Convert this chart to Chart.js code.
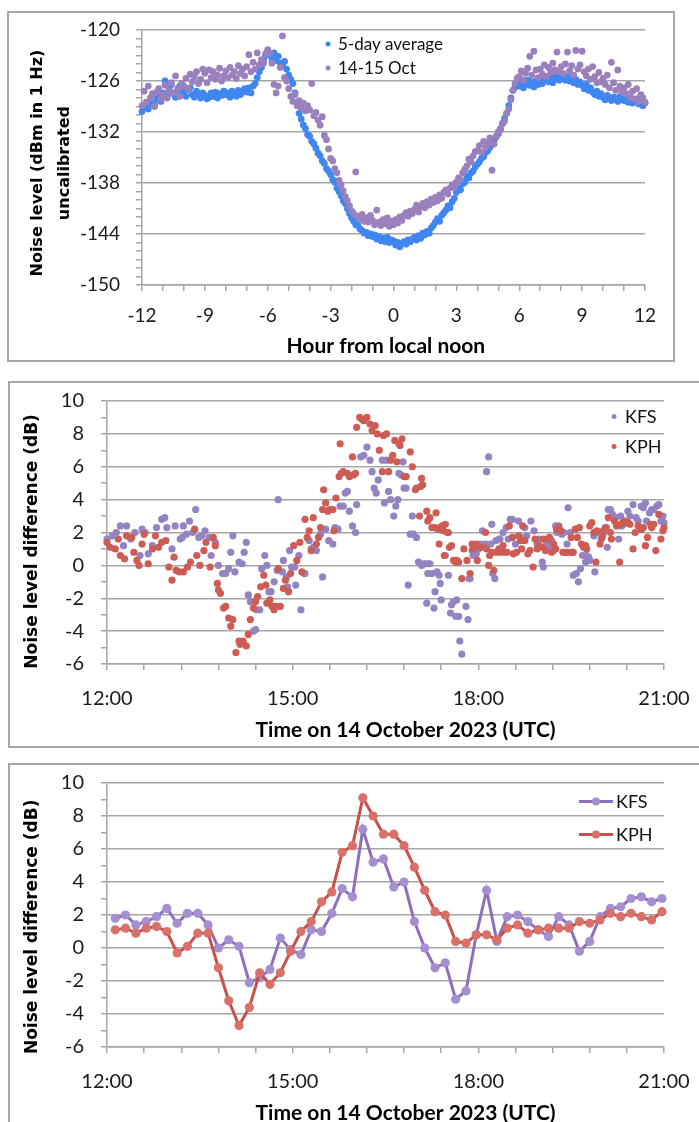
<!DOCTYPE html>
<html>
<head>
<meta charset="utf-8">
<script src="https://cdn.jsdelivr.net/npm/chart.js@4.4.0/dist/chart.umd.min.js"></script>
<style>
  html, body { margin: 0; padding: 0; background: #fff; }
  body { width: 699px; height: 1122px; overflow: hidden; position: relative; }
  .panel { position: absolute; box-sizing: border-box; border: 2px solid #a6a6a6; background: #fff; }
  .panel canvas { display: block; }
  #p1 { left: 7px; top: 11px; width: 668px; height: 351px; }
  #p2 { left: 8px; top: 381px; width: 697px; height: 367px; }
  #p3 { left: 8px; top: 763px; width: 697px; height: 372px; }
</style>
</head>
<body>
<div class="panel" id="p1"><canvas id="c1" width="664" height="347"></canvas></div>
<div class="panel" id="p2"><canvas id="c2" width="693" height="363"></canvas></div>
<div class="panel" id="p3"><canvas id="c3" width="693" height="364"></canvas></div>
<script>
// ---- top panel: noise level vs hour from local noon (0.1 h samples) ----
const noonHours = [
  -12,-11.9,-11.8,-11.7,-11.6,-11.5,-11.4,-11.3,-11.2,-11.1,
  -11,-10.9,-10.8,-10.7,-10.6,-10.5,-10.4,-10.3,-10.2,-10.1,
  -10,-9.9,-9.8,-9.7,-9.6,-9.5,-9.4,-9.3,-9.2,-9.1,
  -9,-8.9,-8.8,-8.7,-8.6,-8.5,-8.4,-8.3,-8.2,-8.1,
  -8,-7.9,-7.8,-7.7,-7.6,-7.5,-7.4,-7.3,-7.2,-7.1,
  -7,-6.9,-6.8,-6.7,-6.6,-6.5,-6.4,-6.3,-6.2,-6.1,
  -6,-5.9,-5.8,-5.7,-5.6,-5.5,-5.4,-5.3,-5.2,-5.1,
  -5,-4.9,-4.8,-4.7,-4.6,-4.5,-4.4,-4.3,-4.2,-4.1,
  -4,-3.9,-3.8,-3.7,-3.6,-3.5,-3.4,-3.3,-3.2,-3.1,
  -3,-2.9,-2.8,-2.7,-2.6,-2.5,-2.4,-2.3,-2.2,-2.1,
  -2,-1.9,-1.8,-1.7,-1.6,-1.5,-1.4,-1.3,-1.2,-1.1,
  -1,-0.9,-0.8,-0.7,-0.6,-0.5,-0.4,-0.3,-0.2,-0.1,
  0,0.1,0.2,0.3,0.4,0.5,0.6,0.7,0.8,0.9,
  1,1.1,1.2,1.3,1.4,1.5,1.6,1.7,1.8,1.9,
  2,2.1,2.2,2.3,2.4,2.5,2.6,2.7,2.8,2.9,
  3,3.1,3.2,3.3,3.4,3.5,3.6,3.7,3.8,3.9,
  4,4.1,4.2,4.3,4.4,4.5,4.6,4.7,4.8,4.9,
  5,5.1,5.2,5.3,5.4,5.5,5.6,5.7,5.8,5.9,
  6,6.1,6.2,6.3,6.4,6.5,6.6,6.7,6.8,6.9,
  7,7.1,7.2,7.3,7.4,7.5,7.6,7.7,7.8,7.9,
  8,8.1,8.2,8.3,8.4,8.5,8.6,8.7,8.8,8.9,
  9,9.1,9.2,9.3,9.4,9.5,9.6,9.7,9.8,9.9,
  10,10.1,10.2,10.3,10.4,10.5,10.6,10.7,10.8,10.9,
  11,11.1,11.2,11.3,11.4,11.5,11.6,11.7,11.8,11.9,
  12
];
const avg5day = [
  -129.6,-129.0,-128.9,-129.3,-128.4,-128.7,-128.8,-128.1,-127.9,-128.4,
  -127.4,-126.0,-127.8,-127.0,-126.4,-127.5,-127.9,-127.1,-126.6,-127.4,
  -127.3,-127.8,-127.0,-126.8,-127.6,-127.9,-127.2,-127.5,-128.0,-127.4,
  -127.7,-128.1,-127.9,-127.4,-127.8,-127.3,-128.0,-127.5,-127.7,-127.2,
  -127.6,-127.4,-127.9,-127.2,-127.5,-127.8,-127.1,-127.6,-127.3,-126.9,
  -127.3,-126.8,-127.4,-126.6,-126.3,-125.6,-124.9,-124.4,-123.6,-123.0,
  -122.5,-122.9,-123.4,-122.7,-123.6,-123.1,-123.9,-124.2,-123.7,-124.6,
  -125.3,-125.8,-126.3,-127.4,-128.6,-129.8,-130.5,-131.2,-131.6,-132.3,
  -132.5,-133.1,-133.4,-133.9,-134.5,-134.8,-135.4,-135.7,-136.3,-136.6,
  -137.0,-137.6,-137.9,-138.6,-139.0,-139.5,-140.1,-140.4,-141.0,-141.6,
  -142.1,-142.5,-142.9,-143.0,-143.4,-143.6,-143.9,-143.8,-144.2,-144.0,
  -144.3,-144.1,-144.6,-144.3,-144.8,-144.5,-144.9,-144.4,-145.0,-144.7,
  -144.8,-145.3,-145.0,-145.5,-145.1,-144.9,-145.2,-144.7,-144.9,-144.6,
  -144.4,-144.7,-144.2,-144.5,-143.9,-144.1,-143.7,-143.9,-143.3,-143.0,
  -142.6,-142.2,-142.5,-141.8,-141.5,-141.2,-140.7,-140.9,-140.2,-139.8,
  -139.1,-138.6,-138.8,-138.1,-137.9,-137.2,-137.4,-136.8,-136.6,-136.1,
  -135.8,-135.5,-135.1,-134.9,-134.4,-134.2,-133.8,-133.5,-133.0,-132.6,
  -132.2,-131.7,-131.0,-130.4,-129.8,-128.9,-128.0,-127.1,-126.7,-126.3,
  -126.6,-126.2,-126.8,-126.3,-125.9,-126.5,-126.1,-126.7,-126.0,-126.4,
  -125.8,-126.3,-125.9,-125.5,-126.1,-125.7,-126.2,-125.6,-125.4,-125.9,
  -125.6,-125.3,-125.9,-125.5,-126.0,-125.7,-126.2,-125.8,-126.4,-126.1,
  -126.5,-126.9,-126.4,-127.1,-126.8,-127.3,-127.6,-127.2,-127.8,-127.5,
  -127.9,-128.2,-127.7,-128.0,-128.3,-127.9,-128.1,-128.4,-127.8,-128.2,
  -128.3,-128.0,-128.5,-128.2,-128.6,-128.4,-128.1,-128.7,-128.5,-128.9,
  -128.6
];
const oct1415 = [
  -128.9,-127.2,-128.5,-126.6,-128.0,-127.5,-129.0,-127.3,-126.9,-128.1,
  -127.6,-126.5,-128.0,-127.1,-126.2,-127.4,-125.4,-126.9,-127.8,-126.3,
  -126.6,-125.7,-126.9,-125.2,-126.1,-125.5,-124.9,-126.3,-125.8,-124.6,
  -125.1,-126.2,-124.7,-125.6,-124.9,-125.8,-125.3,-124.5,-126.0,-125.4,
  -124.8,-125.6,-124.4,-125.3,-124.9,-125.7,-124.2,-125.1,-124.6,-125.4,
  -124.3,-122.9,-124.9,-123.8,-124.6,-122.7,-124.1,-123.5,-123.9,-122.8,
  -122.3,-122.7,-123.9,-126.4,-127.4,-126.6,-124.4,-120.7,-125.6,-126.0,
  -126.9,-127.8,-128.4,-127.6,-128.9,-128.3,-129.2,-128.6,-129.5,-128.9,
  -129.4,-126.3,-130.1,-129.7,-130.6,-131.2,-130.2,-132.4,-132.9,-134.0,
  -135.1,-135.4,-136.3,-136.8,-137.7,-138.2,-138.9,-139.6,-140.1,-140.7,
  -141.3,-141.6,-136.7,-141.9,-142.3,-141.7,-142.5,-142.1,-142.6,-141.8,
  -142.4,-142.9,-141.2,-142.6,-143.0,-142.3,-142.8,-142.1,-143.1,-142.5,
  -142.9,-142.3,-142.7,-142.0,-142.4,-141.8,-141.5,-141.9,-141.3,-141.6,
  -141.1,-140.6,-141.4,-140.8,-140.4,-140.9,-140.2,-140.6,-139.9,-140.3,
  -139.7,-140.1,-139.4,-139.8,-139.1,-138.8,-139.3,-138.6,-138.2,-138.5,
  -137.9,-137.4,-137.6,-136.8,-136.4,-136.0,-135.2,-135.5,-134.8,-134.3,
  -134.2,-133.6,-134.4,-133.1,-133.8,-133.3,-132.7,-136.5,-133.4,-132.5,
  -132.0,-131.6,-131.0,-130.7,-129.8,-129.3,-128.2,-127.1,-126.3,-125.7,
  -125.5,-124.8,-125.9,-125.1,-124.5,-123.1,-125.3,-122.5,-124.7,-125.6,
  -124.6,-125.2,-124.1,-125.5,-124.4,-125.0,-123.9,-124.7,-122.6,-124.9,
  -124.3,-125.1,-124.0,-122.6,-124.8,-124.2,-125.3,-122.4,-124.6,-124.1,
  -122.5,-124.9,-125.4,-124.6,-125.8,-124.3,-125.5,-126.2,-125.0,-126.1,
  -125.7,-126.4,-125.3,-126.8,-123.8,-126.2,-127.1,-124.7,-126.6,-127.3,
  -126.8,-127.5,-126.4,-127.9,-127.2,-128.1,-126.9,-128.4,-127.6,-128.0,
  -128.5
];

// ---- middle panel: individual differences, minutes after 12:00 UTC ----
const kfsMin = [
  0,5,9,13,16,19,23,27,32,34,37,40,44,48,53,56,58,63,66,71,73,74,77,80,83,86,89,92,95,99,101,105,
  108,112,115,118,120,122,124,128,131,133,135,137,139,142,144,145,148,150,153,155,157,159,162,165,166,170,171,174,175,177,179,
  182,183,186,188,191,192,196,198,200,203,207,209,212,215,219,221,224,226,229,231,233,235,238,241,242,246,249,252,
  255,257,259,261,263,267,269,271,273,275,278,280,282,283,285,287,288,290,292,294,296,297,300,302,305,307,
  309,310,311,312,313,315,317,318,320,322,323,324,328,331,333,334,336,338,339,341,342,344,348,350,351,352,
  354,355,358,360,362,364,367,368,370,372,373,374,376,377,380,381,384,387,389,391,393,396,399,401,
  405,407,411,414,417,419,422,423,426,429,431,433,435,436,438,441,443,446,447,449,451,452,455,457,459,461,464,465,467,468,
  472,473,477,479,481,483,485,486,488,490,493,496,498,499,501,505,507,510,513,515,518,520,522,523,526,528,530,533,535,537,539,540
];
const kfsDb = [
  1.6,1.8,2.0,2.4,1.2,2.4,1.6,2.0,0.6,2.2,2.0,0.7,1.2,2.3,2.8,2.9,2.3,1.0,2.4,1.6,1.7,2.4,1.9,2.7,2.0,3.4,1.7,1.8,2.1,1.7,0.6,1.4,
  0.0,-0.5,-0.5,-0.2,0.8,1.8,-0.4,0.2,0.1,0.8,1.4,-1.8,-2.2,-4.0,-3.9,-2.7,-2.7,-0.2,0.6,0.0,-1.6,-1.6,-1.0,-0.3,4.0,-0.4,0.3,-0.7,-1.3,0.9,-0.1,
  -0.1,-1.2,0.6,-2.7,-0.5,-0.5,1.5,1.0,1.1,0.9,1.9,-0.7,2.2,1.5,1.3,2.3,2.2,3.6,3.6,4.4,4.5,3.3,2.4,2.0,3.7,6.6,6.7,7.2,
  6.4,5.7,4.7,4.4,5.2,6.4,3.8,6.4,4.5,4.0,3.0,3.6,4.0,5.6,5.5,6.3,4.7,4.7,-1.2,1.9,3.0,1.9,1.7,0.2,0.0,0.1,
  0.1,-2.3,-0.5,0.1,0.1,-0.5,-2.6,-1.6,-0.4,-0.6,-1.1,-2.1,0.6,-0.6,-2.9,-2.4,-2.2,-3.1,-2.1,-3.1,-4.6,-5.4,-2.5,-3.3,-0.8,-0.8,
  0.9,0.6,0.7,1.0,1.3,2.1,1.3,5.7,6.6,1.3,2.5,-0.5,-0.8,1.5,1.6,1.6,2.0,2.3,1.6,2.8,2.8,1.3,2.7,1.7,
  2.3,1.8,2.7,2.1,1.3,1.6,0.2,-0.1,1.3,1.1,1.5,0.9,2.4,2.0,2.4,1.9,2.0,1.3,3.5,2.0,0.8,-0.6,-0.5,-1.0,-0.2,0.6,0.2,0.6,0.5,0.3,
  1.8,-0.4,2.0,1.6,1.9,2.3,1.1,3.4,3.4,3.1,2.9,1.6,3.0,2.4,2.5,3.3,3.0,3.7,2.9,2.7,3.6,3.5,3.8,2.7,3.2,3.4,3.4,3.6,3.7,2.7,3.0,2.6
];
const kphMin = [
  0,3,8,11,13,17,19,24,26,29,31,34,36,40,44,47,50,53,57,60,63,65,67,70,74,78,81,85,87,90,94,96,100,103,105,
  107,108,110,113,115,118,120,122,125,128,129,132,135,137,139,142,144,146,149,152,154,155,158,160,162,164,166,168,171,173,176,178,
  181,184,187,189,192,194,196,198,200,203,205,207,209,210,212,214,216,219,220,222,225,226,227,229,233,235,238,239,241,242,245,247,249,252,
  255,257,260,262,264,267,268,271,273,275,277,279,281,283,284,286,288,290,294,296,299,300,303,304,305,306,
  310,311,313,315,318,319,321,322,323,325,326,327,328,330,331,332,334,336,338,339,341,344,346,349,352,354,355,358,359,362,363,367,368,370,371,
  373,375,377,380,381,384,385,388,390,393,394,397,399,401,402,403,405,408,410,413,415,417,419,422,423,425,427,429,431,433,435,436,
  438,440,442,444,446,448,450,451,452,454,456,458,460,462,464,465,468,470,472,474,475,478,480,481,484,486,488,489,492,494,497,498,500,
  502,505,507,510,512,515,518,520,522,524,527,528,530,532,535,537,539,540
];
const kphDb = [
  1.4,1.1,1.0,1.6,0.6,0.4,1.8,1.7,0.8,0.3,0.0,1.3,1.9,0.1,1.0,1.8,1.1,1.4,1.5,-0.1,-0.9,0.5,-0.3,-0.4,-0.4,-0.1,0.2,2.2,0.6,0.0,0.9,1.4,-0.1,1.7,1.2,
  -1.1,-1.5,-1.7,-2.6,-2.5,-3.2,-3.7,-3.3,-5.3,-4.6,-4.8,-4.6,-4.9,-4.2,-3.3,-2.6,-2.2,-1.9,-1.3,-0.6,-1.2,-2.3,-2.1,-2.5,-2.7,-2.5,-0.2,-2.5,-1.4,-0.9,-1.6,-0.5,
  1.2,0.3,1.4,-0.4,2.8,1.7,2.1,0.9,2.9,1.3,1.7,2.3,3.4,4.6,3.8,3.3,3.4,3.4,2.1,4.1,5.4,7.4,5.6,5.7,5.6,5.4,6.6,5.5,5.6,8.4,9.0,8.9,8.8,9.0,
  8.6,8.2,8.5,8.0,7.0,5.7,7.9,8.0,5.7,6.4,6.7,7.6,6.3,7.4,7.3,7.7,5.4,5.4,6.9,6.0,4.6,4.7,3.0,4.8,5.3,4.9,
  3.3,2.7,2.9,2.3,2.3,3.2,2.2,1.3,2.3,2.4,2.1,0.6,2.5,2.0,2.0,1.1,1.2,0.3,0.2,0.3,0.2,-0.8,1.0,0.3,-0.5,1.3,1.0,1.3,0.3,1.1,1.1,2.0,1.0,0.0,0.6,
  0.8,-0.3,0.8,1.0,0.8,1.2,0.8,0.8,2.4,1.7,0.7,0.8,1.8,1.5,1.0,2.4,1.5,0.7,0.9,-0.1,1.6,1.0,1.2,1.1,1.6,0.9,1.6,1.7,0.8,1.3,1.0,2.2,
  2.3,2.1,0.8,0.8,0.8,0.8,1.7,0.8,0.8,2.2,1.7,2.3,1.3,1.1,1.2,1.0,2.4,2.6,2.0,0.2,2.1,1.3,1.7,2.1,2.3,2.9,2.0,1.6,2.7,2.4,0.2,2.5,2.6,
  2.7,2.6,2.5,1.0,2.0,2.4,2.2,2.3,1.2,1.7,2.5,2.3,2.5,0.9,3.1,1.6,2.1,2.3
];

// ---- bottom panel: 10-minute averages ----
const avgTimes = [
  '12:08','12:18','12:28','12:38','12:48','12:58',
  '13:08','13:18','13:28','13:38','13:48','13:58',
  '14:08','14:18','14:28','14:38','14:48','14:58',
  '15:08','15:18','15:28','15:38','15:48','15:58',
  '16:08','16:18','16:28','16:38','16:48','16:58',
  '17:08','17:18','17:28','17:38','17:48','17:58',
  '18:08','18:18','18:28','18:38','18:48','18:58',
  '19:08','19:18','19:28','19:38','19:48','19:58',
  '20:08','20:18','20:28','20:38','20:48','20:58'
];
const kfsAvg = [
  1.8,2.0,1.4,1.6,1.9,2.4,1.5,2.1,2.1,1.4,
  0.0,0.5,0.1,-2.1,-1.8,-1.3,0.6,-0.1,-0.4,1.1,
  1.0,2.1,3.6,3.1,7.2,5.2,5.4,3.7,4.0,1.6,
  0.0,-1.2,-0.9,-3.1,-2.6,0.8,3.5,0.4,1.9,2.0,
  1.6,1.1,0.7,1.9,1.4,-0.2,0.4,1.9,2.4,2.5,
  3.0,3.1,2.8,3.0
];
const kphAvg = [
  1.1,1.2,0.9,1.2,1.3,1.0,-0.3,0.1,0.9,0.9,
  -1.2,-3.2,-4.7,-3.6,-1.5,-2.2,-1.5,-0.2,1.0,1.6,
  2.8,3.4,5.8,6.2,9.1,8.0,6.9,6.9,6.2,4.9,
  3.5,2.2,2.0,0.4,0.3,0.8,0.8,0.5,1.2,1.4,
  0.9,1.1,1.2,1.2,1.2,1.6,1.5,1.7,2.1,1.9,
  2.1,1.9,1.7,2.2
];

const GRID = '#a6a6a6';
const INK = '#1a1a1a';
const SANS = 'Lato, "Open Sans", sans-serif';
const NB = '\u00a0';

function toHours(t) {
  const [h, m] = t.split(':').map(Number);
  return h + m / 60;
}
function pairs(xs, ys, fx) {
  return xs.map((x, i) => ({ x: fx ? fx(x) : x, y: ys[i] }));
}
// fixed axis boxes so the plot area lands where the original has it
function fixY(width) {
  return s => { s.width = width; s.paddingTop = 0; s.paddingBottom = 0; };
}
function fixX(height) {
  return s => { s.height = height; s.paddingLeft = 0; s.paddingRight = 0; };
}

// small legend drawn inside the plot area, like the spreadsheet original
const insideLegend = {
  id: 'insideLegend',
  afterDatasetsDraw(chart, args, opts) {
    const ctx = chart.ctx;
    ctx.save();
    ctx.font = opts.fontCss;
    ctx.textBaseline = 'middle';
    ctx.textAlign = 'left';
    chart.data.datasets.forEach((ds, i) => {
      const y = opts.y + i * opts.gap;
      if (opts.line) {
        ctx.strokeStyle = ds.borderColor;
        ctx.lineWidth = ds.borderWidth;
        ctx.beginPath();
        ctx.moveTo(opts.x - opts.half, y);
        ctx.lineTo(opts.x + opts.half, y);
        ctx.stroke();
      }
      ctx.fillStyle = ds.pointBackgroundColor;
      ctx.beginPath();
      ctx.arc(opts.x, y, opts.r, 0, Math.PI * 2);
      ctx.fill();
      ctx.fillStyle = '#111';
      ctx.fillText(ds.label, opts.textX, y + 1);
    });
    ctx.restore();
  }
};

function timeAxis(height, title) {
  return {
    type: 'linear', min: 12, max: 21,
    afterFit: fixX(height),
    ticks: {
      stepSize: 0.6, autoSkip: false, maxRotation: 0, minRotation: 0, padding: 17,
      color: INK, font: { family: SANS, size: 20 },
      callback: v => Math.abs(v / 3 - Math.round(v / 3)) < 1e-6 ? Math.round(v) + ':00' : ''
    },
    grid: { drawOnChartArea: false, color: GRID, lineWidth: 1.5, tickLength: 6 },
    border: { color: GRID, width: 1.5 },
    title: {
      display: true, text: title, color: '#000',
      font: { family: SANS, size: 21, weight: 'bold' }, padding: { top: 0, bottom: 3 }
    }
  };
}
function diffAxis(title) {
  return {
    min: -6, max: 10,
    afterFit: fixY(97),
    ticks: {
      stepSize: 1, autoSkip: false, padding: 17, color: INK, font: { family: SANS, size: 20 },
      callback: v => v % 2 === 0 ? String(v) : ''
    },
    grid: {
      color: c => (c.tick && c.tick.value % 2 === 0) ? GRID : 'rgba(0,0,0,0)',
      tickColor: GRID, lineWidth: 1.5, tickLength: 6
    },
    border: { color: GRID, width: 1.5 },
    title: {
      display: true, text: title, color: '#000',
      font: { family: 'DejaVu Sans', size: 17, weight: 'bold' }, padding: { top: 12 }
    }
  };
}
const common = {
  responsive: false,
  animation: false,
  events: [],
  plugins: { legend: { display: false }, tooltip: { enabled: false } }
};

new Chart(document.getElementById('c1'), {
  type: 'scatter',
  data: {
    datasets: [
      { label: '5-day average', data: pairs(noonHours, avg5day), pointBackgroundColor: '#3f86f0',
        pointBorderWidth: 0, pointRadius: 3.4, order: 2, clip: false },
      { label: '14-15 Oct', data: pairs(noonHours, oct1415), pointBackgroundColor: '#9a80bd',
        pointBorderWidth: 0, pointRadius: 3.4, order: 1, clip: false }
    ]
  },
  options: {
    ...common,
    layout: { padding: { top: 17, right: 28, bottom: 0, left: 0 } },
    plugins: { ...common.plugins,
      insideLegend: { x: 319, textX: 329, y: 31, gap: 24, r: 2.5, fontCss: '17px Lato' } },
    scales: {
      x: {
        type: 'linear', min: -12, max: 12,
        afterFit: fixX(75),
        ticks: {
          stepSize: 1, autoSkip: false, maxRotation: 0, minRotation: 0, padding: 13,
          color: INK, font: { family: SANS, size: 19 },
          callback: v => v % 3 === 0 ? String(v) : ''
        },
        grid: { drawOnChartArea: false, color: GRID, lineWidth: 1.5, tickLength: 6 },
        border: { color: GRID, width: 1.5 },
        title: {
          display: true, text: 'Hour from local noon' + NB + NB + NB, color: '#000',
          font: { family: SANS, size: 21, weight: 'bold' }, padding: { top: 0, bottom: 1 }
        }
      },
      y: {
        min: -150, max: -120,
        afterFit: fixY(133),
        ticks: {
          stepSize: 1, autoSkip: false, padding: 16, color: INK, font: { family: SANS, size: 19 },
          callback: v => v % 6 === 0 ? String(v) : ''
        },
        grid: {
          color: c => (c.tick && c.tick.value % 6 === 0) ? GRID : 'rgba(0,0,0,0)',
          tickColor: GRID, lineWidth: 1.5, tickLength: 6
        },
        border: { color: GRID, width: 1.5 },
        title: {
          display: true, text: ['Noise level (dBm in 1 Hz)' + NB + NB, 'uncalibrated' + NB + NB], color: '#000',
          font: { family: 'DejaVu Sans', size: 16, weight: 'bold', lineHeight: 1.65 }, padding: { top: 16 }
        }
      }
    }
  },
  plugins: [insideLegend]
});

new Chart(document.getElementById('c2'), {
  type: 'scatter',
  data: {
    datasets: [
      { label: 'KFS', data: pairs(kfsMin, kfsDb, m => 12 + m / 60), pointBackgroundColor: '#9483c3',
        pointBorderWidth: 0, pointRadius: 3.6, order: 2, clip: false },
      { label: 'KPH', data: pairs(kphMin, kphDb, m => 12 + m / 60), pointBackgroundColor: '#cd5c54',
        pointBorderWidth: 0, pointRadius: 3.6, order: 1, clip: false }
    ]
  },
  options: {
    ...common,
    layout: { padding: { top: 18, right: 39, bottom: 0, left: 0 } },
    plugins: { ...common.plugins,
      insideLegend: { x: 604, textX: 615, y: 33.5, gap: 30, r: 2.5, fontCss: '18px Lato' } },
    scales: {
      x: timeAxis(82, NB.repeat(8) + 'Time on 14 October 2023 (UTC)'),
      y: diffAxis('Noise level difference (dB)' + NB.repeat(3))
    }
  },
  plugins: [insideLegend]
});

new Chart(document.getElementById('c3'), {
  type: 'scatter',
  data: {
    datasets: [
      { label: 'KFS', data: pairs(avgTimes, kfsAvg, toHours), showLine: true, borderColor: '#8d70b9',
        borderWidth: 3, pointBackgroundColor: '#a58fd0', pointBorderWidth: 0, pointRadius: 4.6,
        order: 2, clip: false },
      { label: 'KPH', data: pairs(avgTimes, kphAvg, toHours), showLine: true, borderColor: '#c8504a',
        borderWidth: 3, pointBackgroundColor: '#d9716a', pointBorderWidth: 0, pointRadius: 4.6,
        order: 1, clip: false }
    ]
  },
  options: {
    ...common,
    layout: { padding: { top: 18, right: 39, bottom: 0, left: 0 } },
    plugins: { ...common.plugins,
      insideLegend: { x: 586, half: 17, textX: 606, y: 36.5, gap: 33, r: 4, line: true, fontCss: '18px Lato' } },
    scales: {
      x: timeAxis(82, NB.repeat(8) + 'Time on 14 October 2023 (UTC)'),
      y: diffAxis('Noise level difference (dB)' + NB.repeat(4))
    }
  },
  plugins: [insideLegend]
});
</script>
</body>
</html>
